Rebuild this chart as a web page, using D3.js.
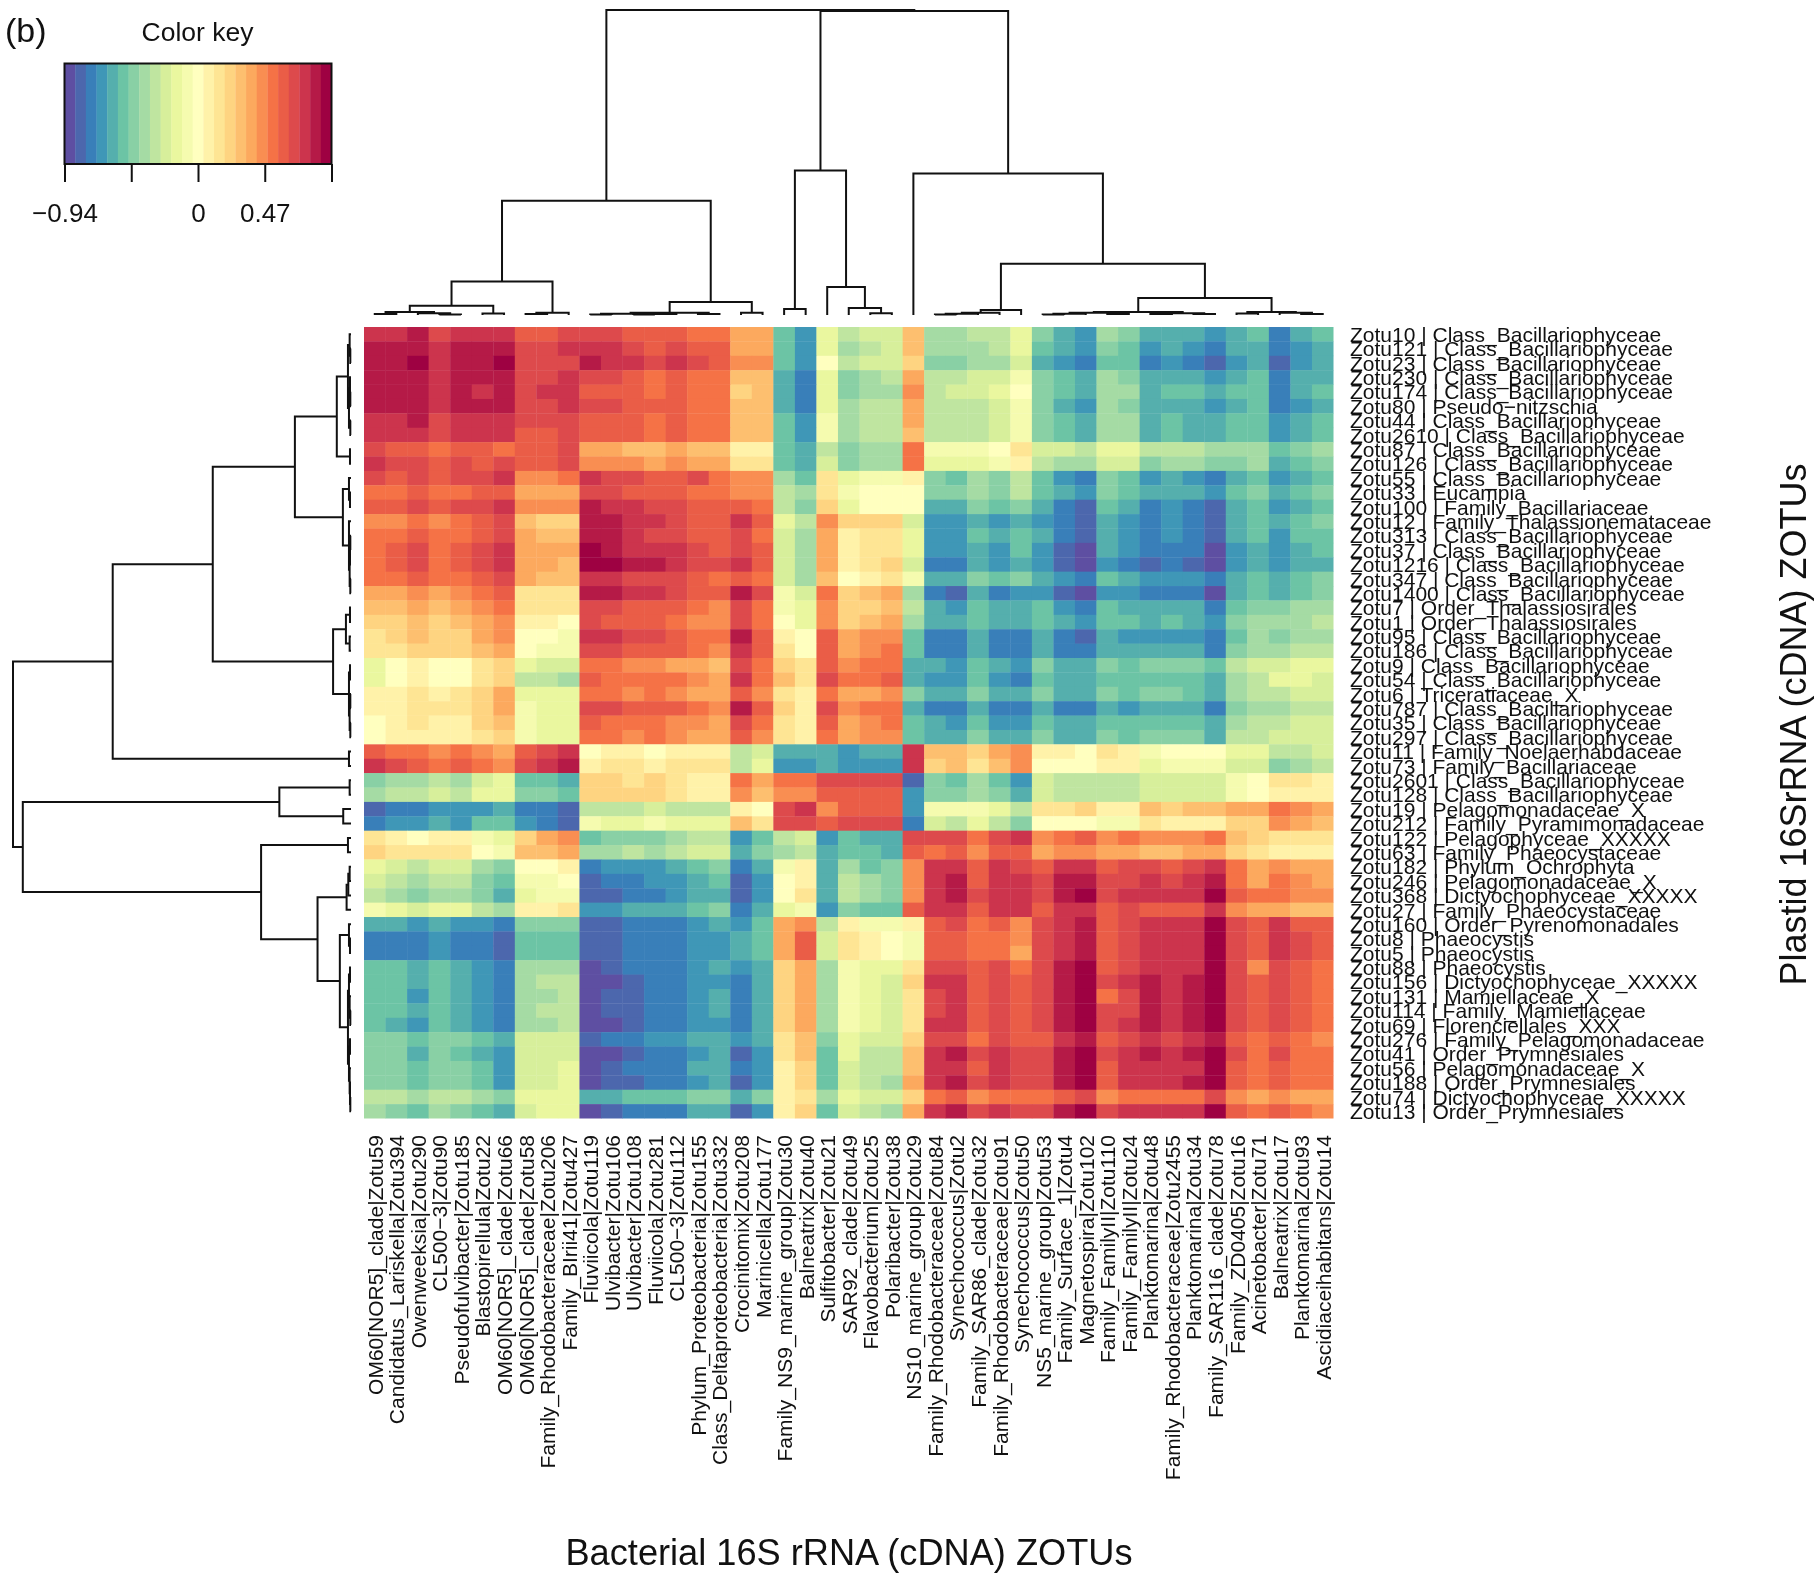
<!DOCTYPE html>
<html><head><meta charset="utf-8">
<script src="https://cdn.jsdelivr.net/npm/d3@7"></script>
<style>html,body{margin:0;padding:0;background:#fff}svg{display:block;filter:blur(0.6px)}text{font-family:"Liberation Sans",Arial,sans-serif;fill:#111}</style>
</head><body><svg id="c" width="1814" height="1573"></svg>
<script>
const colLabels=["OM60[NOR5]_clade|Zotu59","Candidatus_Lariskella|Zotu394","Owenweeksia|Zotu290","CL500−3|Zotu90","Pseudofulvibacter|Zotu185","Blastopirellula|Zotu22","OM60[NOR5]_clade|Zotu66","OM60[NOR5]_clade|Zotu58","Family_Rhodobacteraceae|Zotu206","Family_BIrii41|Zotu427","Fluviicola|Zotu119","Ulvibacter|Zotu106","Ulvibacter|Zotu108","Fluviicola|Zotu281","CL500−3|Zotu112","Phylum_Proteobacteria|Zotu155","Class_Deltaproteobacteria|Zotu332","Crocinitomix|Zotu208","Marinicella|Zotu177","Family_NS9_marine_group|Zotu30","Balneatrix|Zotu40","Sulfitobacter|Zotu21","SAR92_clade|Zotu49","Flavobacterium|Zotu25","Polaribacter|Zotu38","NS10_marine_group|Zotu29","Family_Rhodobacteraceae|Zotu84","Synechococcus|Zotu2","Family_SAR86_clade|Zotu32","Family_Rhodobacteraceae|Zotu91","Synechococcus|Zotu50","NS5_marine_group|Zotu53","Family_Surface_1|Zotu4","Magnetospira|Zotu102","Family_FamilyII|Zotu110","Family_FamilyII|Zotu24","Planktomarina|Zotu48","Family_Rhodobacteraceae|Zotu2455","Planktomarina|Zotu34","Family_SAR116_clade|Zotu78","Family_ZD0405|Zotu16","Acinetobacter|Zotu71","Balneatrix|Zotu17","Planktomarina|Zotu93","Ascidiaceihabitans|Zotu14"];
const B="Class_Bacillariophyceae";
const rowLabels=["Zotu10 | "+B,"Zotu121 | "+B,"Zotu23 | "+B,"Zotu230 | "+B,"Zotu174 | "+B,"Zotu80 | Pseudo−nitzschia","Zotu44 | "+B,"Zotu2610 | "+B,"Zotu87 | "+B,"Zotu126 | "+B,"Zotu55 | "+B,"Zotu33 | Eucampia","Zotu100 | Family_Bacillariaceae","Zotu12 | Family_Thalassionemataceae","Zotu313 | "+B,"Zotu37 | "+B,"Zotu1216 | "+B,"Zotu347 | "+B,"Zotu1400 | "+B,"Zotu7 | Order_Thalassiosirales","Zotu1 | Order_Thalassiosirales","Zotu95 | "+B,"Zotu186 | "+B,"Zotu9 | "+B,"Zotu54 | "+B,"Zotu6 | Triceratiaceae_X","Zotu787 | "+B,"Zotu35 | "+B,"Zotu297 | "+B,"Zotu11 | Family_Noelaerhabdaceae","Zotu73 | Family_Bacillariaceae","Zotu2601 | "+B,"Zotu128 | "+B,"Zotu19 | Pelagomonadaceae_X","Zotu212 | Family_Pyramimonadaceae","Zotu122 | Pelagophyceae_XXXXX","Zotu63 | Family_Phaeocystaceae","Zotu182 | Phylum_Ochrophyta","Zotu246 | Pelagomonadaceae_X","Zotu368 | Dictyochophyceae_XXXXX","Zotu27 | Family_Phaeocystaceae","Zotu160 | Order_Pyrenomonadales","Zotu8 | Phaeocystis","Zotu5 | Phaeocystis","Zotu88 | Phaeocystis","Zotu156 | Dictyochophyceae_XXXXX","Zotu131 | Mamiellaceae_X","Zotu114 | Family_Mamiellaceae","Zotu69 | Florenciellales_XXX","Zotu276 | Family_Pelagomonadaceae","Zotu41 | Order_Prymnesiales","Zotu56 | Pelagomonadaceae_X","Zotu188 | Order_Prymnesiales","Zotu74 | Dictyochophyceae_XXXXX","Zotu13 | Order_Prymnesiales"];

const corrSteps=[
[10,10,11,9,10,10,10, 8,8,9, 9,9,8,8,8,7,7, 5,5, -7,-9,-2,-4, -3,-3,4, -5,-5,-4,-4,-2, -6,-8,-9, -5,-6,-8,-8,-8,-9, -8,-7,-10,-8,-7],
[11,11,11,10,11,11,11, 9,9,10, 10,10,9,8,9,8,8, 5,5, -7,-9,-2,-5, -4,-3,4, -5,-5,-5,-4,-2, -7,-8,-9, -6,-7,-9,-8,-9,-10, -8,-8,-10,-9,-8],
[11,11,12,10,11,11,12, 9,9,9, 11,10,10,9,10,9,8, 6,6, -7,-9,0,-4, -3,-3,3, -6,-6,-5,-5,-3, -8,-9,-10, -7,-7,-10,-9,-10,-11, -9,-8,-11,-9,-8],
[11,11,11,10,11,11,11, 9,9,10, 9,9,8,7,8,7,7, 4,4, -8,-10,-2,-6, -5,-4,5, -4,-4,-3,-3,-1, -6,-7,-8, -5,-6,-8,-8,-8,-9, -8,-7,-10,-8,-8],
[11,11,11,10,11,10,11, 9,10,10, 8,8,8,7,8,7,7, 3,4, -8,-10,-2,-6, -5,-5,6, -4,-3,-3,-2,0, -6,-7,-8, -5,-5,-8,-7,-7,-8, -7,-7,-10,-8,-7],
[11,11,11,10,11,11,11, 9,9,10, 9,9,8,8,8,7,7, 4,4, -8,-10,-2,-5, -4,-4,5, -4,-4,-4,-3,-1, -6,-8,-9, -5,-6,-8,-8,-8,-9, -8,-7,-10,-9,-8],
[10,10,11,9,10,10,10, 9,9,9, 8,8,8,7,8,7,7, 4,4, -7,-9,-1,-5, -4,-4,5, -4,-4,-4,-3,-1, -6,-7,-8, -5,-5,-8,-7,-8,-8, -7,-7,-9,-8,-7],
[10,10,10,9,10,10,10, 8,8,9, 8,8,8,7,8,7,7, 4,4, -7,-9,-1,-5, -4,-4,4, -4,-4,-4,-3,-1, -6,-7,-8, -5,-5,-8,-7,-8,-8, -7,-7,-9,-8,-7],
[9,8,8,7,8,8,7, 8,8,9, 5,5,4,4,5,4,4, 1,1, -7,-8,-4,-6, -5,-5,7, -1,-1,-1,0,2, -3,-3,-4, -2,-2,-4,-4,-4,-5, -5,-5,-7,-6,-5],
[10,9,9,8,9,8,9, 8,8,9, 6,6,6,5,6,5,5, 2,2, -7,-8,-3,-6, -5,-5,7, -2,-2,-2,-1,1, -4,-5,-5, -3,-3,-6,-5,-5,-6, -6,-5,-8,-7,-6],
[9,8,9,8,9,9,10, 6,6,7, 10,9,9,8,8,9,7, 6,6, -5,-7,2,-2, -1,-1,1, -6,-7,-5,-6,-4, -7,-9,-10, -6,-7,-9,-8,-9,-10, -8,-7,-9,-8,-7],
[7,7,8,7,7,8,8, 5,5,5, 9,9,8,8,8,7,7, 6,6, -4,-5,2,-1, 0,0,0, -6,-6,-5,-6,-4, -7,-8,-9, -6,-7,-8,-8,-8,-9, -7,-6,-8,-7,-6],
[8,8,9,8,9,9,10, 6,6,6, 11,10,10,9,9,8,8, 8,7, -4,-6,3,-2, 0,0,0, -8,-8,-6,-7,-6, -8,-10,-11, -7,-8,-10,-9,-10,-11, -8,-7,-9,-8,-7],
[6,6,7,6,7,8,9, 4,3,3, 11,11,10,10,9,8,8, 10,8, -2,-4,6,3, 3,3,-3, -9,-9,-8,-9,-8, -9,-10,-11, -8,-9,-10,-9,-10,-11, -8,-7,-8,-7,-6],
[7,7,8,7,7,8,9, 5,4,4, 11,11,10,9,9,8,8, 9,7, -3,-5,5,1, 2,2,-2, -9,-9,-7,-8,-7, -8,-10,-11, -8,-9,-10,-9,-10,-11, -8,-7,-9,-7,-7],
[7,8,9,7,8,9,10, 5,5,5, 12,11,10,10,10,9,8, 9,8, -3,-5,5,1, 2,2,-2, -9,-9,-8,-9,-7, -9,-11,-12, -8,-9,-10,-10,-10,-12, -9,-8,-9,-8,-7],
[7,8,9,7,8,9,10, 5,5,4, 12,12,11,11,10,9,9, 10,8, -3,-5,5,1, 2,3,-3, -10,-10,-8,-9,-8, -9,-11,-12, -9,-10,-11,-10,-11,-12, -9,-8,-9,-8,-8],
[7,7,8,7,7,8,9, 5,4,4, 10,10,9,9,9,8,7, 8,7, -3,-5,4,0, 1,2,-1, -8,-8,-6,-7,-6, -8,-9,-10, -7,-8,-9,-9,-9,-10, -8,-7,-8,-7,-6],
[5,5,6,5,6,7,8, 2,2,2, 11,11,10,10,9,8,8, 11,9, -1,-3,7,3, 4,5,-5, -10,-11,-8,-10,-9, -9,-11,-12, -9,-9,-10,-10,-10,-12, -8,-7,-8,-7,-6],
[4,4,5,4,5,6,7, 2,2,2, 9,9,8,8,8,7,6, 9,7, -1,-2,6,3, 3,4,-4, -8,-9,-7,-8,-8, -7,-9,-10, -7,-8,-8,-8,-8,-10, -7,-6,-6,-5,-5],
[3,3,4,3,4,5,6, 1,1,0, 9,8,8,8,7,6,6, 9,7, 0,-2,6,3, 4,5,-5, -8,-8,-7,-8,-8, -7,-8,-9, -7,-7,-8,-7,-8,-9, -6,-5,-5,-5,-4],
[2,3,4,3,3,5,6, 0,0,-1, 10,10,9,9,8,7,7, 11,8, 1,0,8,5, 6,6,-7, -10,-10,-8,-10,-10, -8,-10,-11, -8,-9,-9,-9,-9,-10, -7,-5,-6,-5,-5],
[2,2,3,3,3,4,5, 0,-1,-1, 9,9,8,8,8,7,6, 10,8, 2,0,8,5, 6,7,-7, -10,-10,-8,-10,-10, -8,-10,-10, -8,-8,-8,-8,-8,-10, -6,-5,-5,-4,-4],
[-2,0,1,0,0,2,3, -2,-3,-3, 7,7,6,6,5,5,4, 9,7, 3,2,8,6, 7,7,-8, -8,-9,-7,-8,-9, -6,-8,-8, -6,-7,-6,-6,-6,-7, -4,-3,-3,-2,-2],
[-2,0,1,0,0,2,3, -4,-4,-5, 8,7,7,7,7,6,5, 10,7, 4,2,9,7, 7,8,-8, -9,-9,-7,-9,-10, -7,-8,-8, -7,-7,-7,-7,-7,-8, -5,-4,-2,-2,-3],
[1,1,2,1,2,3,5, -2,-2,-2, 7,7,6,7,6,5,5, 8,6, 2,1,7,5, 5,6,-6, -8,-8,-6,-8,-8, -6,-8,-8, -6,-7,-6,-6,-7,-8, -5,-4,-4,-3,-3],
[1,1,2,2,2,3,5, -1,-2,-2, 9,9,8,8,8,7,6, 11,8, 3,1,9,6, 7,7,-8, -10,-10,-8,-10,-10, -8,-10,-10, -8,-9,-8,-8,-8,-10, -6,-5,-5,-4,-4],
[0,1,2,1,1,3,4, -1,-2,-2, 8,7,7,7,6,6,5, 9,7, 2,1,8,5, 6,7,-7, -8,-9,-7,-9,-9, -7,-8,-8, -7,-7,-7,-7,-7,-8, -5,-4,-4,-3,-3],
[0,1,1,1,1,2,3, -1,-2,-2, 7,7,6,7,6,5,5, 8,6, 2,1,7,5, 6,6,-7, -8,-8,-6,-8,-8, -6,-8,-8, -6,-7,-6,-6,-6,-8, -4,-4,-3,-3,-3],
[8,7,7,6,7,6,5, 8,9,10, 0,1,1,0,1,1,1, -4,-3, -8,-8,-8,-9, -8,-8,10, 4,4,3,5,6, 1,1,0, 2,1,-1,0,0,0, -2,-2,-4,-4,-3],
[10,9,8,7,8,7,6, 9,10,11, 1,2,2,1,2,2,2, -4,-2, -9,-9,-8,-9, -9,-9,10, 3,4,2,4,6, 0,0,0, 1,1,-2,-1,-1,-1, -3,-3,-6,-5,-4],
[-6,-5,-5,-4,-5,-3,-2, -7,-7,-8, 3,3,2,3,2,1,1, 7,5, 7,7,9,9, 9,9,-11, -6,-7,-5,-7,-9, -3,-4,-4, -4,-4,-3,-3,-3,-3, -1,0,2,2,1],
[-5,-4,-4,-3,-4,-2,-2, -6,-6,-7, 3,3,3,3,2,1,1, 6,4, 6,6,8,8, 8,8,-9, -6,-6,-5,-6,-8, -3,-4,-4, -4,-4,-3,-3,-3,-3, -1,0,1,1,1],
[-11,-10,-10,-9,-9,-9,-8, -10,-10,-11, -4,-4,-4,-3,-4,-4,-4, 1,0, 9,10,6,8, 8,8,-9, -1,-1,-1,-2,-4, 2,2,3, 1,1,4,3,4,4, 5,5,7,6,5],
[-10,-9,-9,-8,-9,-7,-7, -9,-10,-11, -1,-2,-2,-1,-2,-2,-2, 4,2, 9,9,8,9, 9,9,-10, -3,-4,-2,-4,-6, 0,0,0, -1,-1,2,1,1,1, 3,3,6,5,4],
[2,1,0,1,1,-1,-2, 3,5,6, -7,-6,-6,-6,-5,-4,-4, -9,-7, -4,-3,-9,-7, -8,-8,9, 9,9,7,9,10, 6,7,8, 6,7,6,6,6,7, 4,3,2,2,2],
[3,2,2,2,2,0,-1, 4,4,5, -5,-5,-4,-5,-4,-3,-3, -8,-6, -5,-4,-8,-7, -7,-8,8, 7,8,6,8,8, 5,6,6, 5,5,4,4,5,5, 3,2,1,1,1],
[-2,-3,-4,-3,-3,-5,-6, 0,0,1, -10,-9,-9,-9,-8,-7,-6, -10,-8, -1,1,-8,-5, -7,-6,6, 10,10,8,10,9, 8,10,10, 8,9,9,8,9,10, 7,5,6,5,5],
[-3,-4,-5,-4,-4,-6,-7, -1,-1,0, -11,-10,-10,-9,-9,-8,-7, -11,-9, 0,1,-8,-4, -5,-6,6, 10,11,8,10,10, 9,11,11, 9,9,10,9,10,11, 7,5,7,6,5],
[-4,-5,-6,-5,-5,-6,-8, -2,-1,-1, -11,-11,-10,-10,-9,-8,-8, -11,-9, 0,2,-8,-4, -5,-6,6, 10,11,9,10,10, 9,11,12, 9,10,10,10,10,12, 8,7,7,6,6],
[-1,-2,-3,-2,-2,-4,-5, 1,1,2, -9,-9,-8,-8,-8,-7,-6, -10,-8, -2,-1,-9,-6, -7,-7,8, 10,10,8,10,10, 8,10,10, 8,9,8,8,8,10, 6,5,5,4,4],
[-8,-8,-9,-8,-9,-9,-10, -6,-6,-6, -11,-11,-10,-10,-10,-9,-8, -9,-7, 5,6,-4,1, -1,-1,1, 8,9,7,8,6, 9,10,11, 8,9,10,10,10,12, 9,8,10,8,8],
[-10,-10,-10,-9,-10,-10,-11, -7,-7,-7, -11,-11,-10,-10,-10,-9,-9, -8,-7, 5,8,-3,2, 1,0,-1, 8,8,7,7,6, 9,10,11, 8,9,10,10,10,12, 9,8,10,9,8],
[-10,-10,-10,-9,-10,-10,-11, -7,-7,-7, -11,-11,-10,-10,-10,-9,-9, -8,-7, 5,8,-3,2, 1,0,-1, 8,8,7,7,5, 9,10,11, 8,9,10,10,10,12, 9,8,10,9,8],
[-7,-7,-8,-7,-8,-9,-10, -5,-5,-5, -12,-11,-10,-10,-10,-9,-8, -9,-8, 3,5,-5,-1, -2,-2,2, 9,9,8,9,7, 9,11,12, 8,9,10,10,10,12, 9,6,9,8,7],
[-7,-7,-8,-7,-8,-9,-10, -5,-4,-4, -12,-12,-11,-10,-10,-9,-9, -10,-8, 3,5,-5,-1, -2,-3,3, 10,10,8,9,8, 9,11,12, 9,10,11,10,11,12, 9,8,9,8,7],
[-7,-7,-9,-7,-8,-9,-10, -5,-5,-4, -12,-11,-11,-10,-10,-9,-8, -10,-8, 3,5,-5,-1, -2,-3,2, 9,10,8,9,8, 9,11,12, 7,9,11,10,11,12, 9,8,9,8,7],
[-7,-7,-8,-7,-8,-9,-10, -5,-4,-4, -12,-11,-11,-10,-10,-9,-8, -10,-8, 3,5,-5,-1, -2,-3,2, 9,10,8,9,8, 9,11,12, 9,9,11,10,11,12, 9,8,9,8,7],
[-7,-8,-9,-7,-8,-9,-10, -5,-5,-4, -12,-12,-11,-10,-10,-9,-9, -10,-8, 3,5,-5,-1, -2,-3,2, 10,10,8,9,8, 9,11,12, 9,10,11,10,11,12, 9,8,9,8,7],
[-6,-6,-7,-6,-6,-7,-8, -3,-3,-3, -11,-10,-10,-9,-9,-8,-8, -9,-8, 2,4,-6,-2, -3,-3,3, 9,9,7,9,8, 8,10,11, 8,9,10,9,10,11, 8,7,8,7,6],
[-6,-6,-8,-6,-7,-8,-9, -3,-3,-3, -12,-12,-11,-10,-10,-9,-8, -11,-9, 2,4,-7,-2, -4,-4,4, 10,11,9,10,9, 9,11,12, 9,10,11,10,11,12, 9,7,9,7,7],
[-6,-6,-7,-6,-6,-7,-9, -3,-3,-2, -12,-11,-10,-10,-10,-8,-8, -10,-9, 1,3,-7,-3, -4,-4,4, 10,10,8,10,9, 9,11,12, 8,10,10,10,10,12, 8,7,8,7,7],
[-6,-6,-7,-6,-6,-7,-9, -3,-3,-2, -12,-11,-11,-10,-10,-9,-8, -11,-9, 1,3,-7,-3, -4,-5,5, 10,11,9,10,9, 9,11,12, 8,10,10,10,11,12, 8,7,8,7,7],
[-4,-4,-5,-4,-4,-5,-6, -2,-2,-2, -8,-8,-7,-7,-7,-6,-6, -8,-6, 1,2,-5,-2, -3,-3,3, 7,8,6,7,7, 7,8,9, 6,7,7,7,7,9, 6,5,6,5,5],
[-5,-6,-7,-5,-6,-7,-8, -3,-2,-2, -12,-11,-10,-10,-10,-8,-8, -11,-9, 1,3,-7,-3, -4,-5,5, 10,11,9,10,9, 9,11,12, 9,10,10,10,10,12, 8,7,8,7,6]
];
const keyMin=-0.94, keyMax=0.94, keyBins=25;
const keyTicks=[-0.94,-0.47,0,0.47,0.94];
const keyTickLabels=["−0.94","","0","0.47",""];
const spectralStops=["#5e4fa2","#3288bd","#66c2a5","#abdda4","#e6f598","#ffffbf","#fee08b","#fdae61","#f46d43","#d53e4f","#9e0142"];

// Dendrograms: [height, left, right]; a bare number is a leaf (its position in the order).
const colTree=[100,
 [37.5,
  [11,[3,[1,[.3,1,2],[.6,3,[.2,4,5]]],[.5,6,7]],[.7,[.3,8,9],10]],
  [4.3,[.7,[.4,[.2,11,12],[.3,[.2,13,14],15]],[.3,16,17]],[.7,18,19]]],
 [99.7,
  [47.4,[2,20,21],[9.2,22,[2.3,23,[.6,24,25]]]],
  [46.4,26,[16.8,
    [1.6,[.7,[.4,[.2,27,28],29],30],31],
    [5.6,[1,[.7,[.4,[.2,32,33],34],[.3,35,36]],[.6,[.3,37,38],[.3,39,40]]],
         [1,[.5,41,42],[.7,43,[.3,44,45]]]]]]]];
const rowTree=[100,
 [70.5,
  [40.9,
   [16.6,
    [4.2,[.9,[.4,1,[.2,2,3]],[.6,[.3,4,[.2,5,6]],[.2,7,8]]],[.3,9,10]],
    [2.4,[.6,11,[.3,12,13]],[.6,14,[.4,[.3,[.2,15,16],17],[.2,18,19]]]]],
   [5.3,[1.5,[.3,20,21],[.4,22,23]],[.6,[.3,24,25],[.4,[.2,26,27],[.2,28,29]]]]],
  [.6,30,31]],
 [97.1,
  [21.2,[.4,32,33],[2.3,34,35]],
  [26.6,[.9,36,37],
   [9.9,
    [1.3,[.8,[.4,38,39],40],41],
    [3.3,[.6,42,[.3,43,44]],
     [.9,[.6,[.3,45,46],[.4,47,[.2,48,49]]],[.6,[.3,50,51],[.4,52,[.3,53,[.2,54,55]]]]]]]]]];

const svg=d3.select("#c");
const nCol=colLabels.length,nRow=rowLabels.length;
const xPos=d3.scaleLinear().domain([.5,nCol+.5]).range([364,1333.5]);
const yPos=d3.scaleLinear().domain([.5,nRow+.5]).range([327,1118.5]);
const step=(keyMax-keyMin)/keyBins;
const ramp=d3.piecewise(d3.interpolateRgb,spectralStops);
const palette=d3.quantize(ramp,keyBins);
const color=d3.scaleQuantize().domain([keyMin,keyMax]).range(palette);

// heatmap
const cells=corrSteps.flatMap((r,i)=>r.map((s,j)=>({i:i+1,j:j+1,v:s*step})));
svg.append("g").selectAll("rect").data(cells).join("rect")
 .attr("x",d=>xPos(d.j-.5)).attr("y",d=>yPos(d.i-.5))
 .attr("width",d=>xPos(2)-xPos(1)+(d.j<nCol?.35:0)).attr("height",d=>yPos(2)-yPos(1)+(d.i<nRow?.35:0))
 .attr("fill",d=>color(d.v));

// labels
svg.append("g").selectAll("text").data(rowLabels).join("text")
 .attr("x",1350).attr("y",(d,i)=>yPos(i+1)+7.7).attr("font-size",21).text(d=>d);
svg.append("g").selectAll("text").data(colLabels).join("text")
 .attr("text-anchor","end").attr("font-size",21)
 .attr("transform",(d,i)=>`translate(${xPos(i+1)+8},1135) rotate(-90)`).text(d=>d);

// dendrograms
function segs(node,out){
 if(typeof node==="number") return {p:node,h:0};
 const a=segs(node[1],out),b=segs(node[2],out);
 out.push({h:node[0],a,b});
 return {p:(a.p+b.p)/2,h:node[0]};
}
const colSegs=[];segs(colTree,colSegs);
const rowSegs=[];segs(rowTree,rowSegs);
const hTop=d3.scaleLinear().domain([0,100]).range([315,10]);
const hLeft=d3.scaleLinear().domain([0,100]).range([351,13]);
const dend=svg.append("g").attr("fill","none").attr("stroke","#111").attr("stroke-width",2);
dend.selectAll("path.t").data(colSegs).join("path").attr("class","t").attr("d",d=>{
 const p=d3.path();p.moveTo(xPos(d.a.p),hTop(d.a.h));p.lineTo(xPos(d.a.p),hTop(d.h));
 p.lineTo(xPos(d.b.p),hTop(d.h));p.lineTo(xPos(d.b.p),hTop(d.b.h));return p;});
dend.selectAll("path.l").data(rowSegs).join("path").attr("class","l").attr("d",d=>{
 const p=d3.path();p.moveTo(hLeft(d.a.h),yPos(d.a.p));p.lineTo(hLeft(d.h),yPos(d.a.p));
 p.lineTo(hLeft(d.h),yPos(d.b.p));p.lineTo(hLeft(d.b.h),yPos(d.b.p));return p;});

// colour key
const keyX=d3.scaleLinear().domain([keyMin,keyMax]).range([64.5,331.5]);
const keyTop=63.5,keyBottom=164;
svg.append("g").selectAll("rect").data(palette).join("rect")
 .attr("x",(d,i)=>keyX(keyMin+i*step)).attr("y",keyTop)
 .attr("width",keyX(step)-keyX(0)+.3).attr("height",keyBottom-keyTop).attr("fill",d=>d);
svg.append("rect").attr("x",keyX(keyMin)).attr("y",keyTop).attr("width",keyX(keyMax)-keyX(keyMin))
 .attr("height",keyBottom-keyTop).attr("fill","none").attr("stroke","#111").attr("stroke-width",2);
const ax=svg.append("g").attr("transform",`translate(0,${keyBottom})`)
 .call(d3.axisBottom(keyX).tickValues(keyTicks).tickSize(18).tickPadding(22)
  .tickFormat((d,i)=>keyTickLabels[i]));
ax.select(".domain").remove();
ax.selectAll("line").attr("stroke","#111").attr("stroke-width",2);
ax.selectAll("text").attr("font-size",26).attr("font-family",'"Liberation Sans",Arial,sans-serif').attr("fill","#111");

// titles
svg.append("text").attr("x",5).attr("y",41.5).attr("font-size",34).text("(b)");
svg.append("text").attr("x",197.5).attr("y",41).attr("text-anchor","middle").attr("font-size",26.5).text("Color key");
svg.append("text").attr("x",849).attr("y",1564.5).attr("text-anchor","middle").attr("font-size",36.2).text("Bacterial 16S rRNA (cDNA) ZOTUs");
svg.append("text").attr("text-anchor","middle").attr("font-size",36)
 .attr("transform","translate(1806,724.5) rotate(-90)").text("Plastid 16SrRNA (cDNA) ZOTUs");
</script></body></html>
